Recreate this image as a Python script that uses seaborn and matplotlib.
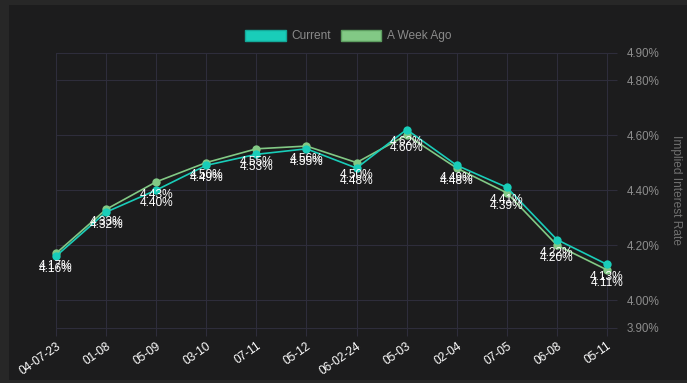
import numpy as np
import pandas as pd
import matplotlib
matplotlib.use("Agg")
import matplotlib.pyplot as plt
from matplotlib.patches import Patch, Rectangle
from matplotlib.ticker import FuncFormatter
import seaborn as sns

# data
meetings = ["04-07-23", "01-08", "05-09", "03-10", "07-11", "05-12",
            "06-02-24", "05-03", "02-04", "07-05", "06-08", "05-11"]
current = [4.16, 4.32, 4.40, 4.49, 4.53, 4.55, 4.48, 4.62, 4.49, 4.41, 4.22, 4.13]
week_ago = [4.17, 4.33, 4.43, 4.50, 4.55, 4.56, 4.50, 4.60, 4.48, 4.39, 4.20, 4.11]
y_ticks = [3.90, 4.00, 4.20, 4.40, 4.60, 4.80, 4.90]

TEAL = "#19cdb9"
GREEN = "#82c985"
GRID = "#2e2d3b"
BG = "#1c1c1d"

sns.set_theme(style="dark")
plt.rcParams["font.family"] = ["Liberation Sans", "DejaVu Sans"]

df = pd.DataFrame({
    "pos": list(range(len(meetings))) * 2,
    "rate": current + week_ago,
    "series": ["Current"] * len(meetings) + ["A Week Ago"] * len(meetings),
})

fig = plt.figure(figsize=(6.87, 3.83), dpi=100, facecolor="#272727")
fig.patches.append(Rectangle((9 / 687, 3 / 383), 1.0, 375 / 383, transform=fig.transFigure,
                             facecolor=BG, edgecolor="none", zorder=-10))
ax = fig.add_axes([56 / 687, 1 - 327.7 / 383, (607 - 56) / 687, (327.7 - 52.5) / 383])
ax.set_facecolor(BG)

sns.lineplot(data=df, x="pos", y="rate", hue="series", hue_order=["A Week Ago", "Current"],
             palette={"Current": TEAL, "A Week Ago": GREEN}, marker="o", markersize=6,
             markeredgewidth=0, linewidth=1.2, legend=False, ax=ax)
for ln in ax.lines:
    ln.set_clip_on(False)

# value labels under each point
for vals in (week_ago, current):
    for i, v in enumerate(vals):
        ax.annotate(f"{v:.2f}%", (i, v), xytext=(0, -9.3), textcoords="offset points",
                    ha="center", va="center", color="white", fontsize=8.6, zorder=5)

ax.set_xlim(0, len(meetings) - 1)
ax.set_ylim(3.9, 4.9)
ax.set_xticks(range(len(meetings)))
ax.set_xticklabels(meetings, rotation=35, ha="right", rotation_mode="anchor",
                   color="white", fontsize=8.6)
ax.set_yticks(y_ticks)
ax.yaxis.set_major_formatter(FuncFormatter(lambda v, p: f"{v:.2f}%"))
ax.yaxis.tick_right()
ax.tick_params(axis="y", length=7.2, width=0.8, color=GRID, pad=7, labelsize=8.4,
               labelcolor="#8c8c8c", right=True, left=False)
ax.tick_params(axis="x", length=5.8, width=0.8, color=GRID, pad=3, bottom=True)
ax.grid(True, color=GRID, linewidth=0.8)
for gl in ax.get_xgridlines() + ax.get_ygridlines():
    gl.set_clip_on(False)
for s in ax.spines.values():
    s.set_visible(False)
ax.set_xlabel("")
ax.set_ylabel("")

fig.text(676 / 687, 1 - 190 / 383, "Implied Interest Rate", rotation=270,
         ha="center", va="center", color="#6f6f6f", fontsize=8.6)

handles = [Patch(facecolor=TEAL, edgecolor="#14a898", label="Current"),
           Patch(facecolor=GREEN, edgecolor="#5d9d60", label="A Week Ago")]
leg = fig.legend(handles=handles, loc="center", bbox_to_anchor=(348.5 / 687, 1 - 36 / 383),
                 ncol=2, frameon=False, handlelength=3.4, handleheight=1.1,
                 handletextpad=0.5, columnspacing=0.8, fontsize=8.6)
for t in leg.get_texts():
    t.set_color("#8a8a8a")

fig.savefig("out.png", dpi=100, facecolor=fig.get_facecolor())
